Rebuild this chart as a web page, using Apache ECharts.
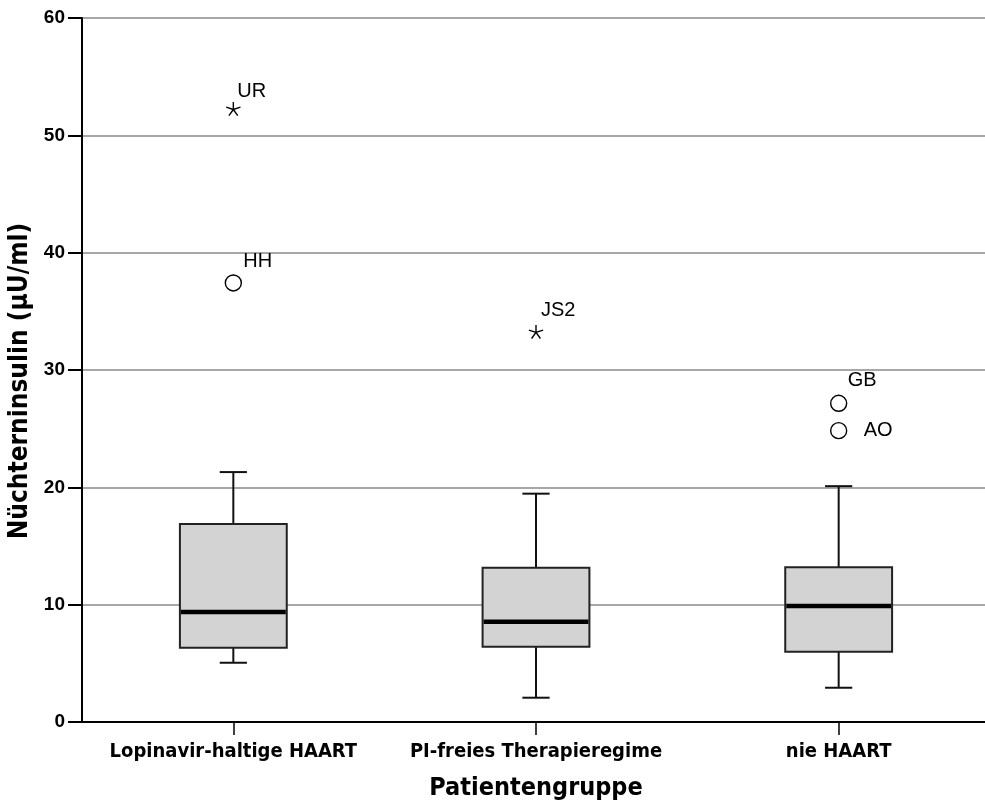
<!DOCTYPE html>
<html>
<head>
<meta charset="utf-8">
<script src="https://cdn.jsdelivr.net/npm/echarts@6/dist/echarts.min.js"></script>
<style>html,body{margin:0;padding:0;background:#fff;overflow:hidden}#c{width:985px;height:800px}</style>
</head>
<body>
<div id="c"></div>
<script>
// ---- data ----
var categories = ['Lopinavir-haltige HAART', 'PI-freies Therapieregime', 'nie HAART'];
var whiskerLow  = [5.05, 2.07, 2.92];
var q1          = [6.33, 6.42, 5.99];
var median      = [9.37, 8.55, 9.89];
var q3          = [16.88, 13.15, 13.18];
var whiskerHigh = [21.3, 19.46, 20.1];

var outlierCategory = [0, 0, 1, 2, 2];
var outlierValue    = [52.2, 37.42, 33.2, 27.16, 24.83];
var outlierLabel    = ['UR', 'HH', 'JS2', 'GB', 'AO'];
var outlierExtreme  = [1, 0, 1, 0, 0]; // 1 = extreme (star), 0 = mild (circle)

var yTicks = { min: 0, max: 60, interval: 10 };
var xAxisTitle = 'Patientengruppe';
var yAxisTitle = 'Nüchterninsulin (µU/ml)';

// ---- styles (label placement per outlier label) ----
var labelOffset = { UR: [4, -18], HH: [10, -21], JS2: [5, -22], GB: [9, -23], AO: [25, 0] };

var boxData = categories.map(function (c, i) {
  return [i, whiskerLow[i], q1[i], median[i], q3[i], whiskerHigh[i]];
});
var outData = outlierValue.map(function (v, i) {
  return [outlierCategory[i], v, outlierExtreme[i], i];
});

var chart = echarts.init(document.getElementById('c'), null, { renderer: 'canvas', width: 985, height: 800 });
var condFont = '"DejaVu Sans Condensed", "Liberation Sans Narrow", "Liberation Sans", Arial, sans-serif';

chart.setOption({
  animation: false,
  backgroundColor: '#fff',
  grid: { left: 82, top: 18, width: 908, height: 704, containLabel: false, outerBoundsMode: 'none' },
  xAxis: {
    type: 'category',
    data: categories,
    boundaryGap: true,
    axisLine: { show: true, lineStyle: { color: '#000', width: 2 } },
    axisTick: { show: true, interval: 0, alignWithLabel: true, length: 13, lineStyle: { color: '#000', width: 1.5 } },
    axisLabel: { interval: 0, hideOverlap: false, color: '#000', fontWeight: 'bold', fontSize: 20, fontFamily: condFont, margin: 20 },
    splitLine: { show: false },
    name: xAxisTitle,
    nameLocation: 'middle',
    nameGap: 54,
    nameTextStyle: { color: '#000', fontWeight: 'bold', fontSize: 25, fontFamily: condFont }
  },
  yAxis: {
    type: 'value',
    min: yTicks.min, max: yTicks.max, interval: yTicks.interval,
    axisLine: { show: true, lineStyle: { color: '#000', width: 2 } },
    axisTick: { show: true, length: 14, lineStyle: { color: '#000', width: 2 } },
    axisLabel: { color: '#000', fontWeight: 'bold', fontSize: 19, fontFamily: 'Liberation Sans, Arial, sans-serif', margin: 17 },
    splitLine: { show: true, lineStyle: { color: '#8a8a8a', width: 1.5 } },
    name: yAxisTitle,
    nameLocation: 'middle',
    nameGap: 46,
    nameTextStyle: { color: '#000', fontWeight: 'bold', fontSize: 26, fontFamily: condFont, padding: [0, 22, 0, 0] }
  },
  series: [
    {
      type: 'custom',
      data: boxData,
      encode: { x: 0, y: [1, 2, 3, 4, 5] },
      renderItem: function (params, api) {
        var i = api.value(0);
        var band = api.size([1, 0])[0];
        var bw = band * 0.353, cw = band * 0.09;
        var pLo = api.coord([i, api.value(1)]);
        var pQ1 = api.coord([i, api.value(2)]);
        var pMd = api.coord([i, api.value(3)]);
        var pQ3 = api.coord([i, api.value(4)]);
        var pHi = api.coord([i, api.value(5)]);
        var x = pMd[0];
        var ls = { stroke: '#111', lineWidth: 2 };
        return {
          type: 'group',
          children: [
            { type: 'line', shape: { x1: x, y1: pQ3[1], x2: x, y2: pHi[1] }, style: ls },
            { type: 'line', shape: { x1: x - cw / 2, y1: pHi[1], x2: x + cw / 2, y2: pHi[1] }, style: ls },
            { type: 'line', shape: { x1: x, y1: pQ1[1], x2: x, y2: pLo[1] }, style: ls },
            { type: 'line', shape: { x1: x - cw / 2, y1: pLo[1], x2: x + cw / 2, y2: pLo[1] }, style: ls },
            { type: 'rect', shape: { x: x - bw / 2, y: pQ3[1], width: bw, height: pQ1[1] - pQ3[1] },
              style: { fill: '#d3d3d3', stroke: '#222', lineWidth: 2 } },
            { type: 'line', shape: { x1: x - bw / 2 + 1, y1: pMd[1], x2: x + bw / 2 - 1, y2: pMd[1] },
              style: { stroke: '#000', lineWidth: 4.5 } }
          ]
        };
      }
    },
    {
      type: 'custom',
      data: outData,
      encode: { x: 0, y: 1 },
      renderItem: function (params, api) {
        var p = api.coord([api.value(0), api.value(1)]);
        var ext = api.value(2);
        var idx = api.value(3);
        var name = outlierLabel[idx];
        var off = labelOffset[name] || [6, -18];
        var children = [];
        if (ext) {
          var r = 7.5;
          for (var k = 0; k < 5; k++) {
            var a = (90 + 72 * k) * Math.PI / 180;
            children.push({ type: 'line',
              shape: { x1: p[0], y1: p[1], x2: p[0] + r * Math.cos(a), y2: p[1] - r * Math.sin(a) },
              style: { stroke: '#000', lineWidth: 1.4 } });
          }
        } else {
          children.push({ type: 'circle', shape: { cx: p[0], cy: p[1], r: 8 },
            style: { fill: '#fff', stroke: '#000', lineWidth: 1.4 } });
        }
        children.push({ type: 'text',
          style: { text: name, x: p[0] + off[0], y: p[1] + off[1], fill: '#000',
            font: '20px "Liberation Sans", Arial, sans-serif', textAlign: 'left', textVerticalAlign: 'middle' } });
        return { type: 'group', children: children };
      }
    }
  ]
});
</script>
</body>
</html>
